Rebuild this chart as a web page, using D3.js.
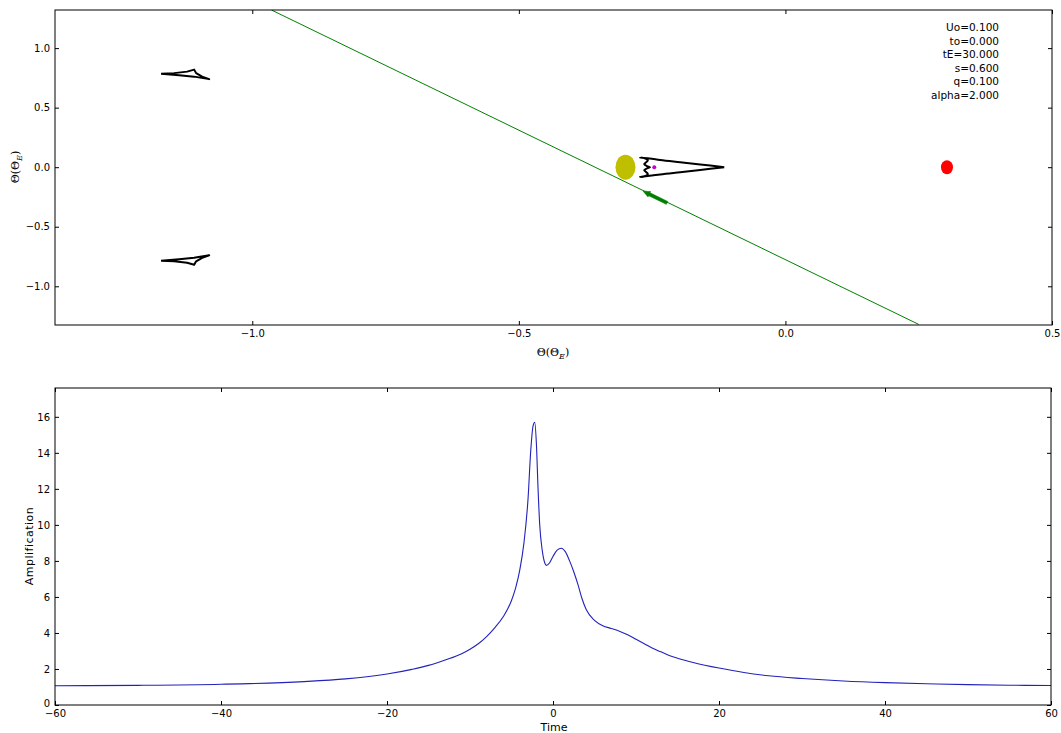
<!DOCTYPE html>
<html>
<head>
<meta charset="utf-8">
<script src="https://cdn.jsdelivr.net/npm/d3@7"></script>
<style>
  body { margin: 0; background: #fff; }
  svg { display: block; font-family: "DejaVu Sans", sans-serif; }
</style>
</head>
<body>
<svg id="chart" width="1061" height="733"></svg>
<script>
// ---------- DATA ----------
// Top panel: source plane (Theta in units of Theta_E)
const xTicksTop = [-1.0, -0.5, 0.0, 0.5];
const yTicksTop = [-1.0, -0.5, 0.0, 0.5, 1.0];
const trajX = [-0.964, 0.250];          // source trajectory endpoints
const trajY = [1.32, -1.32];
const arrowX = [-0.222, -0.267];        // direction arrow (tail, head)
const arrowY = [-0.300, -0.201];
const lens1 = [-0.300, 0.0];            // yellow lens
const lens2 = [0.303, 0.0];             // red lens
const sourcePt = [-0.246, 0.0];         // magenta point
// central caustic
const centralCausticX = [-0.1147, -0.1598, -0.1974, -0.2350, -0.2726, -0.2640, -0.2580, -0.2615, -0.2648, -0.2595, -0.2540,
                         -0.2595, -0.2648, -0.2615, -0.2580, -0.2640, -0.2726, -0.2350, -0.1974, -0.1598, -0.1147];
const centralCausticY = [0.0, 0.0235, 0.0420, 0.0605, 0.0824, 0.0756, 0.0588, 0.0400, 0.0252, 0.0090, 0.0,
                         -0.0090, -0.0252, -0.0400, -0.0588, -0.0756, -0.0824, -0.0605, -0.0420, -0.0235, 0.0];
// planetary caustics (upper; lower is its mirror)
const upperCausticX = [-1.1711, -1.1466, -1.1222, -1.1090, -1.1053, -1.0940, -1.0808, -1.1090, -1.1372, -1.1711];
const upperCausticY = [0.7857, 0.7899, 0.8025, 0.8193, 0.7899, 0.7605, 0.7395, 0.7605, 0.7731, 0.7857];
const lowerCausticX = [-1.1711, -1.1466, -1.1222, -1.1090, -1.1053, -1.0940, -1.0808, -1.1090, -1.1372, -1.1711];
const lowerCausticY = [-0.7857, -0.7899, -0.8025, -0.8193, -0.7899, -0.7605, -0.7395, -0.7605, -0.7731, -0.7857];
const paramLabels = ["Uo=0.100", "to=0.000", "tE=30.000", "s=0.600", "q=0.100", "alpha=2.000"];

// Bottom panel: light curve
const xTicksBottom = [-60, -40, -20, 0, 20, 40, 60];
const yTicksBottom = [0, 2, 4, 6, 8, 10, 12, 14, 16];
const time = [-60, -50, -40, -30, -25, -20, -17, -15, -13, -11, -10, -9, -8, -7, -6, -5, -4.5, -4, -3.5, -3, -2.7,
              -2.4, -2.2, -2.0, -1.8, -1.6, -1.3, -1.0, -0.8, -0.4, 0, 0.5, 1.0, 1.5, 2.0, 2.5, 3, 3.5, 4, 5, 6, 7,
              8, 9, 10, 11, 12, 13, 14, 15, 17, 20, 23, 26, 30, 35, 40, 45, 50, 55, 60];
const amplification = [1.07, 1.09, 1.15, 1.30, 1.45, 1.72, 1.98, 2.20, 2.50, 2.85, 3.10, 3.40, 3.80, 4.30, 4.90, 5.80, 6.50, 7.50, 9.00, 11.5, 14.0,
              15.5, 15.7, 14.5, 12.0, 10.0, 8.6, 7.9, 7.75, 7.9, 8.25, 8.6, 8.7, 8.5, 8.0, 7.4, 6.7, 5.9, 5.3, 4.7, 4.4, 4.25,
              4.1, 3.9, 3.65, 3.4, 3.15, 2.95, 2.75, 2.6, 2.35, 2.05, 1.8, 1.62, 1.47, 1.33, 1.24, 1.18, 1.13, 1.10, 1.08];

// ---------- DRAWING ----------
const svg = d3.select("#chart");
const fmt1 = d => d3.format(".1f")(d).replace("-", "\u2212");
const fmt0 = d => d3.format("d")(d).replace("-", "\u2212");

function frame(g, x, y, xt, yt, xf, yf) {
  const [x0, x1] = x.range(), [y0, y1] = y.range();
  g.append("g").attr("transform", `translate(0,${y0})`)
    .call(d3.axisBottom(x).tickValues(xt).tickFormat(xf).tickSize(-4).tickPadding(5))
    .call(a => a.select(".domain").remove());
  g.append("g").attr("transform", `translate(0,${y1})`)
    .call(d3.axisTop(x).tickValues(xt).tickFormat("").tickSize(-4))
    .call(a => a.select(".domain").remove());
  g.append("g").attr("transform", `translate(${x0},0)`)
    .call(d3.axisLeft(y).tickValues(yt).tickFormat(yf).tickSize(-4).tickPadding(5))
    .call(a => a.select(".domain").remove());
  g.append("g").attr("transform", `translate(${x1},0)`)
    .call(d3.axisRight(y).tickValues(yt).tickFormat("").tickSize(-4))
    .call(a => a.select(".domain").remove());
  g.selectAll(".tick text").attr("font-size", 10).attr("font-family", "DejaVu Sans").attr("fill", "#000");
  g.selectAll(".tick line").attr("stroke", "#000");
  g.append("rect").attr("x", x0).attr("y", y1).attr("width", x1 - x0).attr("height", y0 - y1)
    .attr("fill", "none").attr("stroke", "#000").attr("stroke-width", 1);
}

// ---- top panel ----
const xT = d3.scaleLinear().domain([-1.37, 0.5]).range([55, 1052]);
const yT = d3.scaleLinear().domain([-1.325, 1.32]).range([325, 10]);
const gT = svg.append("g");
svg.append("defs").append("clipPath").attr("id", "clipT")
  .append("rect").attr("x", 55).attr("y", 10).attr("width", 997).attr("height", 315);
const pT = gT.append("g").attr("clip-path", "url(#clipT)");

pT.append("line")
  .attr("x1", xT(trajX[0])).attr("y1", yT(trajY[0]))
  .attr("x2", xT(trajX[1])).attr("y2", yT(trajY[1]))
  .attr("stroke", "#008000").attr("stroke-width", 1);

const lineT = d3.line().x(d => xT(d[0])).y(d => yT(d[1])).curve(d3.curveLinear);
const causticStyle = sel => sel.attr("fill", "none").attr("stroke", "#000").attr("stroke-width", 2).attr("stroke-linejoin", "round");
pT.append("path").datum(d3.zip(upperCausticX, upperCausticY)).attr("d", lineT).call(causticStyle);
pT.append("path").datum(d3.zip(lowerCausticX, lowerCausticY)).attr("d", lineT).call(causticStyle);
pT.append("path").datum(d3.zip(centralCausticX, centralCausticY))
  .attr("d", d3.line().x(d => xT(d[0])).y(d => yT(d[1])).curve(d3.curveCatmullRom.alpha(0.5))).call(causticStyle);

// arrow
{
  const ax0 = xT(arrowX[0]), ay0 = yT(arrowY[0]), ax1 = xT(arrowX[1]), ay1 = yT(arrowY[1]);
  const ang = Math.atan2(ay1 - ay0, ax1 - ax0);
  const len = Math.hypot(ax1 - ax0, ay1 - ay0);
  const ag = pT.append("g").attr("transform", `translate(${ax0},${ay0}) rotate(${ang * 180 / Math.PI})`);
  ag.append("path")
    .attr("d", `M0,-1.6 L${len - 7},-1.6 L${len - 7},-3 L${len},0 L${len - 7},3 L${len - 7},1.6 L0,1.6 Z`)
    .attr("fill", "#008000").attr("stroke", "#008000").attr("stroke-width", 0.5);
}

pT.append("ellipse").attr("cx", xT(lens1[0])).attr("cy", yT(lens1[1])).attr("rx", 10).attr("ry", 12.5).attr("fill", "#bfbf00");
pT.append("ellipse").attr("cx", xT(lens2[0])).attr("cy", yT(lens2[1])).attr("rx", 6).attr("ry", 7).attr("fill", "#ff0000");
pT.append("circle").attr("cx", xT(sourcePt[0])).attr("cy", yT(sourcePt[1])).attr("r", 2).attr("fill", "#cc00cc");

frame(gT, xT, yT, xTicksTop, yTicksTop, fmt1, fmt1);

gT.append("g").selectAll("text").data(paramLabels).join("text")
  .attr("x", 999).attr("y", (d, i) => 31 + i * 13.6)
  .attr("text-anchor", "end").attr("font-size", 10.5).attr("fill", "#000").text(d => d);

// axis labels (Theta(Theta_E))
function thetaLabel(g, x, y, rot) {
  const t = g.append("text").attr("transform", `translate(${x},${y}) rotate(${rot})`)
    .attr("text-anchor", "middle").attr("font-size", 11).attr("fill", "#000")
    .attr("font-family", "DejaVu Serif, serif");
  t.append("tspan").text("\u0398(\u0398");
  t.append("tspan").attr("font-size", 8).attr("font-style", "italic").attr("dy", 3).text("E");
  t.append("tspan").attr("dy", -3).text(")");
}
thetaLabel(gT, 553, 356, 0);
thetaLabel(gT, 19, 167, -90);

// ---- bottom panel ----
const xB = d3.scaleLinear().domain([-60, 60]).range([55, 1051]);
const yB = d3.scaleLinear().domain([0, 17.6]).range([705, 388]);
const gB = svg.append("g");
gB.append("path").datum(d3.zip(time, amplification))
  .attr("d", d3.line().x(d => xB(d[0])).y(d => yB(d[1])).curve(d3.curveMonotoneX))
  .attr("fill", "none").attr("stroke", "#2222bb").attr("stroke-width", 1.1);
frame(gB, xB, yB, xTicksBottom, yTicksBottom, fmt0, fmt0);
// nudge the y "0" label up slightly so it does not collide with the "−60" x label
gB.selectAll(".tick text").filter(function () { return this.textContent === "0" && this.getAttribute("x") !== null && +this.getAttribute("x") < 0; })
  .attr("dy", "0.1em");
gB.append("text").attr("x", 554).attr("y", 731).attr("text-anchor", "middle").attr("font-size", 11).text("Time");
gB.append("text").attr("transform", "translate(33,546) rotate(-90)").attr("text-anchor", "middle")
  .attr("font-size", 11).attr("letter-spacing", 0.5).text("Amplification");
</script>
</body>
</html>
